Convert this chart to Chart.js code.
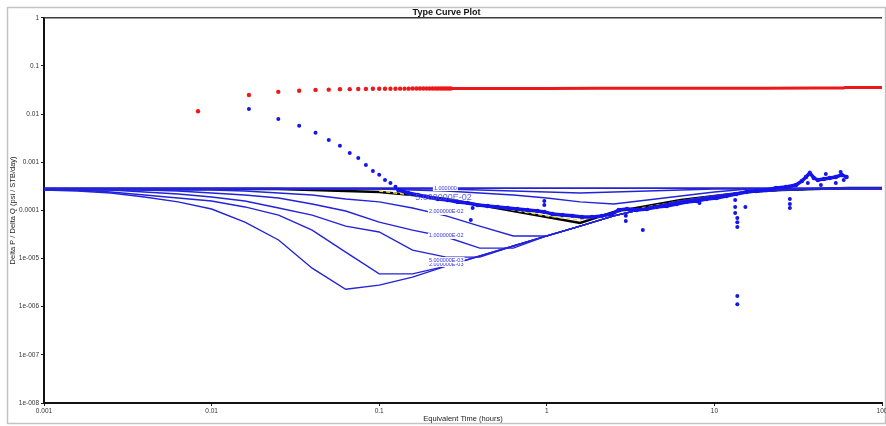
<!DOCTYPE html>
<html lang="en">
<head>
<meta charset="UTF-8">
<title>Type Curve Plot</title>
<script src="https://cdn.jsdelivr.net/npm/chart.js"></script>
<style>
  html, body { margin: 0; padding: 0; background: #fff; }
</style>
</head>
<body>
<canvas id="grafico" width="886" height="426"></canvas>

<script>
// ---- ejes ----
const xTicks = [0.001, 0.01, 0.1, 1, 10, 100];
const xTickLabels = ['0.001', '0.01', '0.1', '1', '10', '100'];
const yTicks = [1e-8, 1e-7, 1e-6, 1e-5, 1e-4, 1e-3, 1e-2, 1e-1, 1];
const yTickLabels = ['1e-008', '1e-007', '1e-006', '1e-005', '0.0001', '0.001', '0.01', '0.1', '1'];

// ---- datos de presion (rojo) ----
const rojoT = [0.0083, 0.0167, 0.025, 0.0333, 0.0417, 0.05, 0.0583, 0.0667, 0.075, 0.0833,
  0.0917, 0.1, 0.1083, 0.1167, 0.125, 0.1333, 0.1417, 0.15, 0.1583, 0.1667,
  0.175, 0.1833, 0.1917, 0.2, 0.2083, 0.2167, 0.225, 0.2333, 0.2417, 0.25, 0.2583, 0.2667];
const rojoV = [0.0115, 0.025, 0.029, 0.0305, 0.0318, 0.0322, 0.0328, 0.033, 0.0332, 0.0334,
  0.0335, 0.0336, 0.0336, 0.0337, 0.0337, 0.0338, 0.0338, 0.0338, 0.0339, 0.0339,
  0.0339, 0.0339, 0.034, 0.034, 0.034, 0.034, 0.034, 0.034, 0.034, 0.034, 0.034, 0.034];
const rojoLineaT = [0.27, 0.5, 1, 2, 5, 10, 20, 40, 59, 60, 100];
const rojoLineaV = [0.034, 0.0341, 0.0342, 0.0343, 0.0344, 0.0345, 0.0346, 0.0347, 0.0347, 0.0357, 0.0358];

// ---- derivada (azul) ----
const derivTempranoT = [0.0167, 0.025, 0.0333, 0.0417, 0.05, 0.0583, 0.0667, 0.075, 0.0833, 0.0917,
  0.1, 0.1083, 0.1167, 0.125];
const derivTempranoV = [0.0128, 0.0079, 0.0057, 0.0041, 0.0029, 0.0022, 0.00155, 0.00123, 0.00088, 0.00066,
  0.00055, 0.00043, 0.00037, 0.00031];

const derivT = [0.130, 0.149, 0.170, 0.195, 0.224, 0.256, 0.294, 0.337, 0.387, 0.444,
  0.508, 0.583, 0.668, 0.766, 0.879, 0.966, 1.08, 1.24, 1.42, 1.62,
  1.86, 2.13, 2.45, 2.69, 3.01, 3.44, 3.95, 4.53, 5.19, 5.95,
  6.82, 7.82, 8.97, 10.3, 11.8, 13.5, 15.5, 17.7, 20.4, 23.3,
  26.7, 30.7, 33.3, 35.2, 37.1, 39.2, 41.4, 45.0, 48.8, 53.0,
  57.5, 61.5];
const derivV = [2.66e-4, 2.30e-4, 2.09e-4, 1.90e-4, 1.73e-4, 1.64e-4, 1.50e-4, 1.43e-4, 1.29e-4, 1.23e-4,
  1.18e-4, 1.12e-4, 1.07e-4, 1.02e-4, 9.7e-5, 9.3e-5, 8.4e-5, 8.0e-5, 7.7e-5, 7.3e-5,
  7.3e-5, 7.7e-5, 8.4e-5, 1.02e-4, 1.07e-4, 1.02e-4, 1.07e-4, 1.18e-4, 1.23e-4, 1.36e-4,
  1.50e-4, 1.57e-4, 1.73e-4, 1.81e-4, 1.99e-4, 2.19e-4, 2.41e-4, 2.53e-4, 2.66e-4, 2.92e-4,
  3.06e-4, 3.37e-4, 4.08e-4, 4.94e-4, 6.0e-4, 4.72e-4, 4.29e-4, 4.50e-4, 4.72e-4, 4.94e-4,
  5.45e-4, 4.94e-4];

const dispersionT = [0.352, 0.361, 0.966, 0.966, 2.96, 2.96, 3.74, 8.15, 13.3, 13.3,
  13.3, 13.7, 13.7, 13.7, 13.7, 13.7, 15.3, 28.2, 28.2, 28.2,
  36.1, 43.2, 53.0, 59.1, 46.2, 56.7];
const dispersionV = [6.3e-5, 1.12e-4, 1.57e-4, 1.29e-4, 7.7e-5, 6.0e-5, 3.9e-5, 1.43e-4, 1.64e-4, 1.18e-4,
  8.8e-5, 6.95e-5, 5.7e-5, 4.5e-5, 1.66e-6, 1.13e-6, 1.18e-4, 1.73e-4, 1.36e-4, 1.12e-4,
  3.71e-4, 3.37e-4, 3.71e-4, 4.29e-4, 5.71e-4, 6.28e-4];

// ---- curvas tipo ----
const curvaT = [0.001, 0.00158, 0.00251, 0.00398, 0.00631, 0.01, 0.0158, 0.0251, 0.0398, 0.0631,
  0.1, 0.158, 0.251, 0.398, 0.631, 1, 1.58, 2.51, 3.98, 6.31,
  10, 15.8, 25.1, 39.8, 63.1, 100];
const curvaPlanaT = [0.001, 100];
const curvaPlanaV = [2.9e-4, 2.9e-4];
const curvaA = [2.66e-4, 2.53e-4, 2.30e-4, 1.90e-4, 1.50e-4, 1.07e-4, 5.7e-5, 2.43e-5, 6.3e-6, 2.3e-6,
  2.8e-6, 4.1e-6, 6.98e-6, 1.13e-5, 1.82e-5, 2.95e-5, 4.7e-5, 7.7e-5, 1.12e-4, 1.57e-4,
  1.99e-4, 2.41e-4, 2.66e-4, 2.79e-4, 2.92e-4, 2.92e-4];
const curvaB = [2.66e-4, 2.66e-4, 2.41e-4, 2.09e-4, 1.81e-4, 1.57e-4, 1.18e-4, 8.0e-5, 3.9e-5, 1.36e-5,
  4.8e-6, 4.8e-6, 6.98e-6, 1.13e-5, 1.82e-5, 2.95e-5, 4.7e-5, 7.7e-5, 1.12e-4, 1.57e-4,
  1.99e-4, 2.41e-4, 2.66e-4, 2.79e-4, 2.92e-4, 2.92e-4];
const curvaC = [2.79e-4, 2.66e-4, 2.66e-4, 2.41e-4, 2.19e-4, 1.90e-4, 1.57e-4, 1.12e-4, 8.0e-5, 4.7e-5,
  3.56e-5, 1.5e-5, 1.07e-5, 1.07e-5, 1.82e-5, 2.95e-5, 4.7e-5, 7.7e-5, 1.12e-4, 1.57e-4,
  1.99e-4, 2.41e-4, 2.66e-4, 2.79e-4, 2.92e-4, 2.92e-4];
const curvaD = [2.79e-4, 2.79e-4, 2.66e-4, 2.66e-4, 2.53e-4, 2.30e-4, 2.09e-4, 1.81e-4, 1.36e-4, 9.7e-5,
  5.7e-5, 3.9e-5, 2.8e-5, 1.65e-5, 1.65e-5, 2.95e-5, 4.7e-5, 7.7e-5, 1.12e-4, 1.57e-4,
  1.99e-4, 2.41e-4, 2.66e-4, 2.79e-4, 2.92e-4, 2.92e-4];
const curvaE = [2.79e-4, 2.79e-4, 2.79e-4, 2.66e-4, 2.66e-4, 2.66e-4, 2.53e-4, 2.30e-4, 2.09e-4, 1.73e-4,
  1.50e-4, 1.12e-4, 7.7e-5, 4.7e-5, 2.95e-5, 2.95e-5, 4.7e-5, 7.7e-5, 1.12e-4, 1.57e-4,
  1.99e-4, 2.41e-4, 2.66e-4, 2.79e-4, 2.92e-4, 2.92e-4];
const curvaG = [2.79e-4, 2.79e-4, 2.79e-4, 2.79e-4, 2.79e-4, 2.79e-4, 2.79e-4, 2.79e-4, 2.79e-4, 2.79e-4,
  2.79e-4, 2.79e-4, 2.79e-4, 2.66e-4, 2.53e-4, 2.41e-4, 2.30e-4, 2.41e-4, 2.53e-4, 2.66e-4,
  2.79e-4, 2.79e-4, 2.79e-4, 2.79e-4, 2.79e-4, 2.79e-4];
const curvaH = [2.79e-4, 2.79e-4, 2.79e-4, 2.79e-4, 2.79e-4, 2.79e-4, 2.79e-4, 2.79e-4, 2.79e-4, 2.79e-4,
  2.79e-4, 2.66e-4, 2.53e-4, 2.30e-4, 2.09e-4, 1.81e-4, 1.50e-4, 1.36e-4, 1.64e-4, 1.99e-4,
  2.41e-4, 2.79e-4, 2.79e-4, 2.79e-4, 2.79e-4, 2.79e-4];
// curva seleccionada (negra) y ajuste (amarillo)
const curvaNegra = [2.79e-4, 2.79e-4, 2.79e-4, 2.79e-4, 2.79e-4, 2.79e-4, 2.79e-4, 2.79e-4, 2.66e-4, 2.53e-4,
  2.41e-4, 2.09e-4, 1.73e-4, 1.29e-4, 9.7e-5, 7.3e-5, 5.5e-5, 9.3e-5, 1.23e-4, 1.64e-4,
  1.99e-4, 2.41e-4, 2.66e-4, 2.79e-4, 2.92e-4, 2.92e-4];
const ajusteT = [0.1, 0.158, 0.251, 0.398, 0.631, 1, 1.58, 2.51, 3.98, 6.31, 10, 15.8, 25.1];
const ajusteV = [2.53e-4, 2.09e-4, 1.73e-4, 1.36e-4, 1.02e-4, 7.7e-5, 6.3e-5, 8.8e-5, 1.18e-4, 1.57e-4, 1.99e-4, 2.41e-4, 2.79e-4];

// ---- etiquetas de curvas ----
const etiquetasTexto = ['1.000000', '2.000000E-02', '1.000000E-02', '5.000000E-03', '2.000000E-03'];
const etiquetasT = [0.212, 0.198, 0.198, 0.198, 0.198];
const etiquetasV = [2.92e-4, 9.3e-5, 2.95e-5, 9.3e-6, 7.7e-6];
const etiquetaGrande = '5.000000E-02';
const etiquetaGrandeT = 0.164;
const etiquetaGrandeV = 1.81e-4;

const FUENTE = 'Arial, "Liberation Sans", sans-serif';
Chart.defaults.font.family = FUENTE;

function pares(ts, vs) {
  return ts.map(function (t, i) { return { x: t, y: vs[i] }; });
}

const AZUL = 'rgb(35, 35, 215)';
const AZUL_PUNTO = 'rgb(20, 20, 235)';
const ROJO = 'rgb(235, 25, 25)';

function curvaTipo(valores) {
  return {
    data: pares(curvaT, valores),
    showLine: true,
    borderColor: AZUL,
    borderWidth: 1.4,
    pointRadius: 0,
    order: 3
  };
}

const marco = {
  id: 'marco',
  beforeDraw(chart) {
    const ctx = chart.ctx;
    ctx.save();
    ctx.fillStyle = '#fff';
    ctx.fillRect(0, 0, chart.width, chart.height);
    ctx.strokeStyle = '#c4c4c4';
    ctx.lineWidth = 1.5;
    ctx.strokeRect(7.5, 7.5, 878, 416);
    ctx.restore();
  },
  afterDraw(chart) {
    const ctx = chart.ctx;
    const a = chart.chartArea;
    ctx.save();
    ctx.strokeStyle = '#3a3a3a';
    ctx.lineWidth = 1.5;
    ctx.beginPath();
    ctx.moveTo(a.left, a.top);
    ctx.lineTo(a.right, a.top);
    ctx.stroke();
    ctx.restore();
  }
};

const etiquetas = {
  id: 'etiquetas',
  afterDatasetsDraw(chart) {
    const ctx = chart.ctx;
    const x = chart.scales.x;
    const y = chart.scales.y;
    ctx.save();
    ctx.textBaseline = 'middle';
    ctx.font = '5.5px ' + FUENTE;
    for (let i = etiquetasTexto.length - 1; i >= 0; i--) {
      const px = x.getPixelForValue(etiquetasT[i]);
      const py = y.getPixelForValue(etiquetasV[i]);
      const w = ctx.measureText(etiquetasTexto[i]).width;
      ctx.fillStyle = '#fff';
      ctx.fillRect(px - 1, py - 3, w + 2, 6);
      ctx.fillStyle = '#3434d8';
      ctx.fillText(etiquetasTexto[i], px, py);
    }
    ctx.font = '9px ' + FUENTE;
    ctx.fillStyle = 'rgba(80, 80, 215, 0.9)';
    ctx.fillText(etiquetaGrande, x.getPixelForValue(etiquetaGrandeT), y.getPixelForValue(etiquetaGrandeV));
    ctx.restore();
  }
};

new Chart(document.getElementById('grafico'), {
  type: 'scatter',
  data: {
    datasets: [
      {
        data: pares(derivTempranoT, derivTempranoV),
        pointRadius: 2, pointBackgroundColor: AZUL_PUNTO, pointBorderWidth: 0,
        order: 0
      },
      {
        data: pares(derivT, derivV),
        showLine: true, borderColor: AZUL_PUNTO, borderWidth: 3.5,
        pointRadius: 2.2, pointBackgroundColor: AZUL_PUNTO, pointBorderWidth: 0,
        order: 0
      },
      {
        data: pares(dispersionT, dispersionV),
        pointRadius: 2, pointBackgroundColor: AZUL_PUNTO, pointBorderWidth: 0,
        order: 0
      },
      {
        data: pares(rojoT, rojoV),
        pointRadius: 2.2, pointBackgroundColor: ROJO, pointBorderWidth: 0,
        order: 1
      },
      {
        data: pares(rojoLineaT, rojoLineaV),
        showLine: true, borderColor: ROJO, borderWidth: 3, pointRadius: 0,
        order: 1
      },
      {
        data: pares(curvaPlanaT, curvaPlanaV),
        showLine: true, borderColor: AZUL, borderWidth: 1.8, pointRadius: 0,
        order: 3
      },
      curvaTipo(curvaA),
      curvaTipo(curvaB),
      curvaTipo(curvaC),
      curvaTipo(curvaD),
      curvaTipo(curvaE),
      curvaTipo(curvaG),
      curvaTipo(curvaH),
      {
        data: pares(ajusteT, ajusteV),
        showLine: true, borderColor: 'rgb(240, 225, 40)', borderWidth: 1.5,
        borderDash: [4, 3], pointRadius: 0,
        order: 4
      },
      {
        data: pares(curvaT, curvaNegra),
        showLine: true, borderColor: '#000', borderWidth: 2.5, pointRadius: 0,
        order: 5
      }
    ]
  },
  options: {
    responsive: false,
    animation: false,
    events: [],
    layout: { padding: { left: 8, right: 1, top: 0, bottom: 3 } },
    plugins: {
      legend: { display: false },
      tooltip: { enabled: false },
      title: {
        display: true,
        text: 'Type Curve Plot',
        color: '#111',
        font: { size: 9, weight: 'bold', lineHeight: 1.2 },
        padding: { top: 7, bottom: 0 }
      }
    },
    scales: {
      x: {
        type: 'logarithmic',
        position: 'bottom',
        min: 0.001,
        max: 100,
        afterBuildTicks: function (s) { s.ticks = xTicks.map(function (v) { return { value: v }; }); },
        afterFit: function (s) { s.height = 20; s.paddingLeft = 0; s.paddingRight = 0; },
        ticks: {
          autoSkip: false, maxRotation: 0, padding: 1,
          color: '#333', font: { size: 6.5 },
          callback: function (v) { const i = xTicks.indexOf(v); return i >= 0 ? xTickLabels[i] : ''; }
        },
        grid: { drawOnChartArea: false, drawTicks: true, tickLength: 3, tickColor: '#222' },
        border: { display: true, color: '#111', width: 2 },
        title: { display: true, text: 'Equivalent Time (hours)', color: '#222', font: { size: 7.5 }, padding: 0 }
      },
      y: {
        type: 'logarithmic',
        min: 1e-8,
        max: 1,
        afterBuildTicks: function (s) { s.ticks = yTicks.map(function (v) { return { value: v }; }); },
        afterFit: function (s) { s.width = 36; s.paddingTop = 0; s.paddingBottom = 0; },
        ticks: {
          autoSkip: false, padding: 2,
          color: '#333', font: { size: 6.5 },
          callback: function (v) { const i = yTicks.indexOf(v); return i >= 0 ? yTickLabels[i] : ''; }
        },
        grid: { drawOnChartArea: false, drawTicks: true, tickLength: 3, tickColor: '#222' },
        border: { display: true, color: '#111', width: 2 },
        title: { display: true, text: 'Delta P / Delta Q (psi / STB/day)', color: '#222', font: { size: 7.5 }, padding: 0 }
      }
    }
  },
  plugins: [marco, etiquetas]
});
</script>
</body>
</html>
